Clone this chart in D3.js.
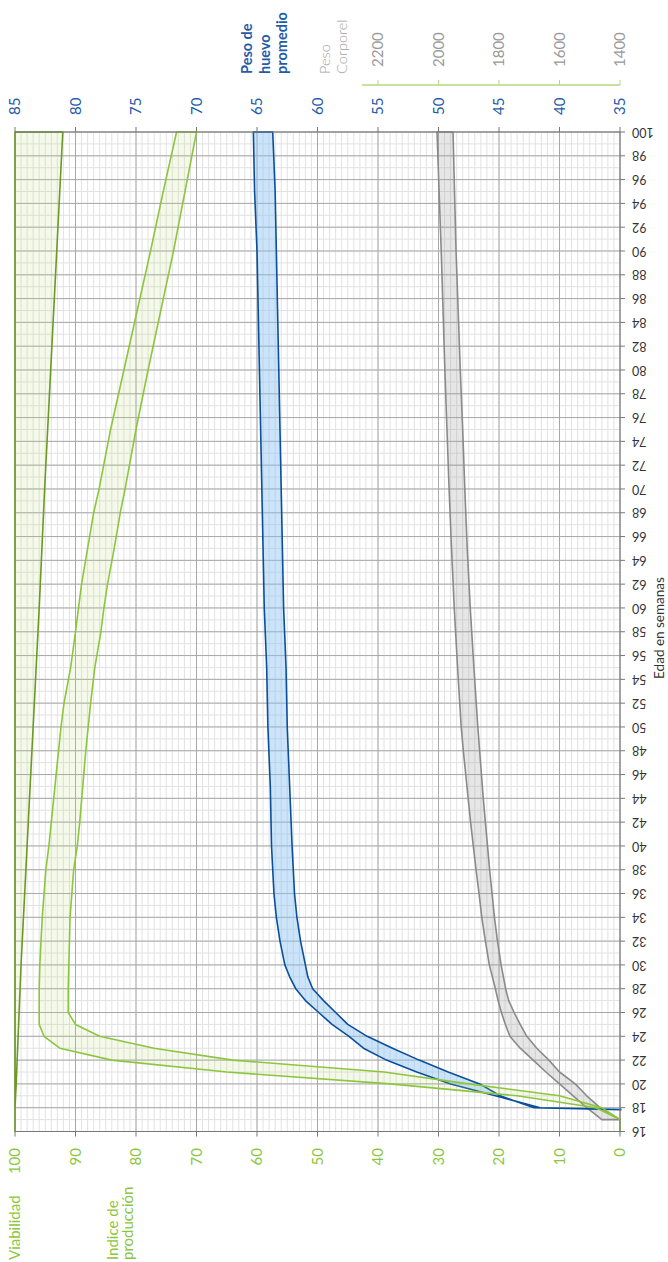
<!DOCTYPE html>
<html>
<head>
<meta charset="utf-8">
<script src="https://cdn.jsdelivr.net/npm/d3@7"></script>
<style>
  body { margin: 0; background: #fff; }
  svg { display: block; }
  text { font-family: Lato, "Open Sans", sans-serif; }
</style>
</head>
<body>
<div id="chart"></div>
<script>
// weeks on the age axis (labels every 2 weeks)
var weekTicks = d3.range(16, 101, 2);
var prodTicks = [0, 10, 20, 30, 40, 50, 60, 70, 80, 90, 100];
var eggTicks = [35, 40, 45, 50, 55, 60, 65, 70, 75, 80, 85];
var bwTicks = [1400, 1600, 1800, 2000, 2200];

// Viabilidad (%)
var viaWeeks = [16, 18, 20, 25, 30, 40, 50, 60, 70, 80, 90, 100];
var viaHigh  = [100, 100, 100, 100, 100, 100, 100, 100, 100, 100, 100, 100];
var viaLow   = [100, 100, 99.8, 99.4, 99.0, 98.0, 97.0, 96.0, 95.1, 94.1, 93.1, 92.1];

// Indice de producción (%)
var prodWeeks = [16, 17, 18, 19, 20, 21, 22, 23, 24, 25, 26, 28, 30, 32, 34, 36, 38, 40, 42, 45, 48, 50, 52, 55, 58, 60, 62, 65, 68, 70, 75, 80, 85, 90, 95, 100];
var prodHigh  = [0, 0, 4, 17, 38, 65, 84, 92.6, 95.2, 96, 96, 96, 95.9, 95.7, 95.5, 95.2, 94.9, 94.4, 94.0, 93.4, 92.8, 92.4, 91.9, 90.8, 90.0, 89.5, 89.0, 88.0, 87.0, 86.1, 84.2, 82.0, 79.8, 77.6, 75.5, 73.3];
var prodLow   = [0, 0, 3, 10, 25, 39, 64, 77, 86, 90, 91.2, 91.2, 91.1, 91.0, 90.9, 90.6, 90.3, 89.7, 89.3, 88.8, 88.3, 87.9, 87.5, 86.8, 85.8, 85.3, 84.7, 83.6, 82.6, 81.8, 80.0, 78.0, 75.9, 73.8, 71.9, 70.0];

// Peso de huevo promedio (g)
var eggWeeks = [17, 18, 19, 20, 21, 22, 23, 24, 25, 26, 27, 28, 29, 30, 32, 34, 36, 38, 40, 45, 50, 55, 60, 65, 70, 75, 80, 85, 90, 95, 100];
var eggHigh  = [0, 41.6, 45.3, 49.0, 51.8, 54.3, 56.2, 57.4, 58.8, 59.9, 61.0, 61.8, 62.3, 62.7, 63.1, 63.4, 63.6, 63.7, 63.8, 63.9, 64.1, 64.2, 64.4, 64.5, 64.6, 64.7, 64.8, 64.9, 65.0, 65.2, 65.3];
var eggLow   = [0, 42.1, 44.9, 46.6, 49.2, 51.6, 53.8, 55.9, 57.5, 58.5, 59.5, 60.4, 60.8, 61.0, 61.4, 61.7, 61.9, 62.0, 62.1, 62.3, 62.5, 62.6, 62.8, 62.9, 63.0, 63.1, 63.2, 63.3, 63.4, 63.5, 63.7];

// Peso corporal (g)
var bwWeeks = [17, 18, 19, 20, 21, 22, 23, 24, 25, 26, 27, 28, 30, 32, 34, 36, 38, 40, 42, 44, 46, 48, 50, 55, 60, 65, 70, 75, 80, 85, 90, 95, 100];
var bwHigh  = [1460, 1510, 1555, 1600, 1645, 1687, 1730, 1764, 1779, 1792, 1803, 1812, 1832, 1845, 1857, 1866, 1876, 1885, 1894, 1902, 1910, 1918, 1925, 1937, 1948, 1957, 1965, 1972, 1979, 1985, 1991, 1998, 2005];
var bwLow   = [1400, 1466, 1510, 1548, 1600, 1635, 1675, 1708, 1730, 1750, 1768, 1778, 1793, 1805, 1815, 1823, 1831, 1838, 1845, 1852, 1858, 1864, 1870, 1883, 1895, 1905, 1913, 1920, 1928, 1935, 1942, 1947, 1952];

var W = 668, H = 1262;
var plot = {left: 15, right: 620, top: 132, bottom: 1131.5};

var svg = d3.select("#chart").append("svg")
  .attr("width", W)
  .attr("height", H);

// scales: the chart is drawn turned on its side
var y = d3.scaleLinear().domain([16, 100]).range([plot.bottom, plot.top]);
var xProd = d3.scaleLinear().domain([0, 100]).range([plot.right, plot.left]);
var xEgg = d3.scaleLinear().domain([35, 85]).range([plot.right, plot.left]);
var xBw = d3.scaleLinear().domain([1400, 2200]).range([plot.right, xEgg(55)]);

// grid
var grid = svg.append("g");
grid.selectAll(".vminor").data(d3.range(0, 101, 1)).enter().append("line")
  .attr("x1", function(d) { return xProd(d); })
  .attr("x2", function(d) { return xProd(d); })
  .attr("y1", plot.top).attr("y2", plot.bottom)
  .attr("stroke", "#e2e2e2").attr("stroke-width", 1);
grid.selectAll(".hminor").data(d3.range(16, 101, 1)).enter().append("line")
  .attr("x1", plot.left).attr("x2", plot.right)
  .attr("y1", function(d) { return y(d); })
  .attr("y2", function(d) { return y(d); })
  .attr("stroke", "#e2e2e2").attr("stroke-width", 1);
grid.selectAll(".vmajor").data(prodTicks).enter().append("line")
  .attr("x1", function(d) { return xProd(d); })
  .attr("x2", function(d) { return xProd(d); })
  .attr("y1", plot.top).attr("y2", plot.bottom)
  .attr("stroke", "#a8a8a8").attr("stroke-width", 1);
grid.selectAll(".hmajor").data(weekTicks).enter().append("line")
  .attr("x1", plot.left).attr("x2", plot.right)
  .attr("y1", function(d) { return y(d); })
  .attr("y2", function(d) { return y(d); })
  .attr("stroke", "#a8a8a8").attr("stroke-width", 1);

svg.append("clipPath").attr("id", "clip")
  .append("rect")
  .attr("x", plot.left - 3).attr("y", plot.top - 3)
  .attr("width", plot.right - plot.left + 4.5)
  .attr("height", plot.bottom - plot.top + 6);

var bands = svg.append("g").attr("clip-path", "url(#clip)");

function band(weeks, hi, lo, xs, fill, stroke) {
  var area = d3.area()
    .y(function(i) { return y(weeks[i]); })
    .x0(function(i) { return xs(lo[i]); })
    .x1(function(i) { return xs(hi[i]); });
  bands.append("path")
    .datum(d3.range(weeks.length))
    .attr("d", area)
    .attr("fill", fill)
    .attr("stroke", stroke)
    .attr("stroke-width", 1.6)
    .attr("stroke-linejoin", "round");
}

band(bwWeeks, bwHigh, bwLow, xBw, "rgba(160,160,160,0.26)", "#8a8a8a");
band(eggWeeks, eggHigh, eggLow, xEgg, "rgba(140,195,245,0.45)", "#0a4f9c");
band(prodWeeks, prodHigh, prodLow, xProd, "rgba(190,220,120,0.16)", "#8cc63e");
band(viaWeeks, viaHigh, viaLow, xProd, "rgba(190,220,120,0.16)", "#6a9a22");

// frame
svg.append("line").attr("x1", plot.left).attr("x2", plot.right)
  .attr("y1", plot.top).attr("y2", plot.top).attr("stroke", "#777");
svg.append("line").attr("x1", plot.left).attr("x2", plot.right)
  .attr("y1", plot.bottom).attr("y2", plot.bottom).attr("stroke", "#777");
svg.append("line").attr("x1", plot.right).attr("x2", plot.right)
  .attr("y1", plot.top).attr("y2", plot.bottom).attr("stroke", "#777");

// age axis (right)
svg.selectAll(".wtick").data(weekTicks).enter().append("line")
  .attr("x1", plot.right).attr("x2", plot.right + 5)
  .attr("y1", function(d) { return y(d); })
  .attr("y2", function(d) { return y(d); })
  .attr("stroke", "#777");
svg.selectAll(".wlab").data(weekTicks).enter().append("text")
  .attr("transform", function(d) { return "translate(632," + y(d) + ") rotate(180)"; })
  .attr("text-anchor", "end")
  .attr("dy", "0.35em")
  .attr("font-family", "'Open Sans', sans-serif")
  .attr("font-size", 12.5)
  .attr("fill", "#333")
  .text(function(d) { return d; });
svg.append("text")
  .attr("transform", "translate(659,628) rotate(-90)")
  .attr("text-anchor", "middle")
  .attr("dy", "0.35em")
  .attr("font-family", "'Open Sans', sans-serif")
  .attr("font-size", 13.5)
  .attr("fill", "#333")
  .text("Edad en semanas");

// production / viability axis (bottom)
svg.selectAll(".ptick").data(prodTicks).enter().append("line")
  .attr("x1", function(d) { return xProd(d); })
  .attr("x2", function(d) { return xProd(d); })
  .attr("y1", plot.bottom).attr("y2", plot.bottom + 5)
  .attr("stroke", "#777");
svg.selectAll(".plab").data(prodTicks).enter().append("text")
  .attr("transform", function(d) { return "translate(" + xProd(d) + ",1148) rotate(-90)"; })
  .attr("text-anchor", "end")
  .attr("dy", "0.35em")
  .attr("font-size", 15)
  .attr("fill", "#8cc63e")
  .text(function(d) { return d; });

var bottomTitles = [
  {x: 15, t: "Viabilidad"},
  {x: 113, t: "Indice de"},
  {x: 128, t: "producción"}
];
svg.selectAll(".btitle").data(bottomTitles).enter().append("text")
  .attr("transform", function(d) { return "translate(" + d.x + ",1260) rotate(-90)"; })
  .attr("dy", "0.35em")
  .attr("font-size", 15)
  .attr("fill", "#8cc63e")
  .text(function(d) { return d.t; });

// egg weight axis (top)
svg.selectAll(".etick").data(eggTicks).enter().append("line")
  .attr("x1", function(d) { return xEgg(d); })
  .attr("x2", function(d) { return xEgg(d); })
  .attr("y1", plot.top).attr("y2", plot.top - 5)
  .attr("stroke", "#777");
svg.selectAll(".elab").data(eggTicks).enter().append("text")
  .attr("transform", function(d) { return "translate(" + xEgg(d) + ",115) rotate(-90)"; })
  .attr("dy", "0.35em")
  .attr("font-size", 15)
  .attr("fill", "#1f5ca8")
  .text(function(d) { return d; });

// body weight axis (top, short)
svg.append("line")
  .attr("x1", 362).attr("x2", plot.right)
  .attr("y1", 85).attr("y2", 85)
  .attr("stroke", "#b7d77e").attr("stroke-width", 1.5);
svg.selectAll(".btick").data(bwTicks).enter().append("line")
  .attr("x1", function(d) { return xBw(d); })
  .attr("x2", function(d) { return xBw(d); })
  .attr("y1", 85).attr("y2", 80)
  .attr("stroke", "#b7d77e").attr("stroke-width", 1);
svg.selectAll(".bwlab").data(bwTicks).enter().append("text")
  .attr("transform", function(d) { return "translate(" + xBw(d) + ",67) rotate(-90)"; })
  .attr("dy", "0.35em")
  .attr("font-size", 15)
  .attr("fill", "#999")
  .text(function(d) { return d; });

var topTitles = [
  {x: 247, t: "Peso de", c: "#1f5ca8", w: 700},
  {x: 265, t: "huevo", c: "#1f5ca8", w: 700},
  {x: 282, t: "promedio", c: "#1f5ca8", w: 700},
  {x: 325, t: "Peso", c: "#a0a0a0", w: 300},
  {x: 342, t: "Corporel", c: "#a0a0a0", w: 300}
];
svg.selectAll(".ttitle").data(topTitles).enter().append("text")
  .attr("transform", function(d) { return "translate(" + d.x + ",74) rotate(-90)"; })
  .attr("dy", "0.35em")
  .attr("font-size", 14.5)
  .attr("font-weight", function(d) { return d.w; })
  .attr("fill", function(d) { return d.c; })
  .text(function(d) { return d.t; });
</script>
</body>
</html>
